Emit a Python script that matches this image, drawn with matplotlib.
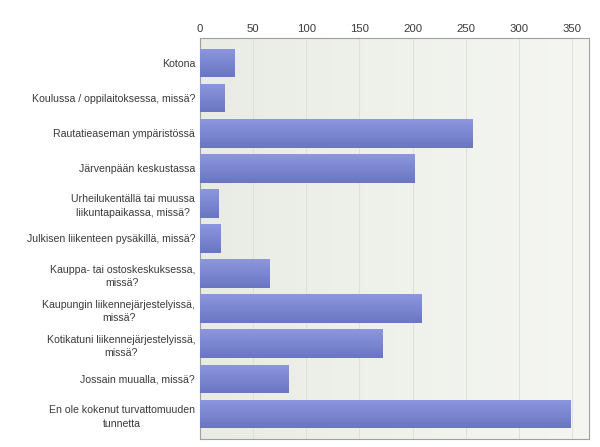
import numpy as np
import matplotlib.pyplot as plt
from matplotlib.colors import LinearSegmentedColormap

labels = [
    "Kotona",
    "Koulussa / oppilaitoksessa, missä?",
    "Rautatieaseman ympäristössä",
    "Järvenpään keskustassa",
    "Urheilukentällä tai muussa\nliikuntapaikassa, missä?",
    "Julkisen liikenteen pysäkillä, missä?",
    "Kauppa- tai ostoskeskuksessa,\nmissä?",
    "Kaupungin liikennejärjestelyissä,\nmissä?",
    "Kotikatuni liikennejärjestelyissä,\nmissä?",
    "Jossain muualla, missä?",
    "En ole kokenut turvattomuuden\ntunnetta",
]
values = [32, 23, 256, 202, 17, 19, 65, 208, 172, 83, 349]
xticks = [0, 50, 100, 150, 200, 250, 300, 350]

plt.rcParams['font.family'] = ['Liberation Sans', 'DejaVu Sans']

fig = plt.figure(figsize=(6, 4.47), dpi=100)
ax = fig.add_axes([200 / 600, 1 - 439 / 447, 389 / 600, 401 / 447])

xmax = 366
ax.set_xlim(0, xmax)
ax.set_ylim(len(values) - 0.29, -0.71)

# background gradient
bg = LinearSegmentedColormap.from_list('bg', ['#e9ece4', '#f5f6f2'])
ax.imshow(np.linspace(0, 1, 256)[None, :], cmap=bg, aspect='auto',
          extent=[0, xmax, len(values) - 0.29, -0.71], zorder=0)

for x in xticks[1:]:
    ax.axvline(x, color='#e0e0da', lw=0.7, zorder=1)

# bars with vertical gradient
barcmap = LinearSegmentedColormap.from_list('bar', ['#8c97df', '#6b76c2'])
y = np.arange(len(values))
bars = ax.barh(y, values, height=0.82, color='#7c87d1', zorder=2)
for b in bars:
    x0, y0 = b.get_x(), b.get_y()
    w, h = b.get_width(), b.get_height()
    im = ax.imshow(np.linspace(0, 1, 64)[:, None], cmap=barcmap, aspect='auto',
                   extent=[x0, x0 + w, y0 + h, y0], zorder=3)
    im.set_clip_path(b)

ax.set_yticks(y)
ax.set_yticklabels(labels, fontsize=7.6, color='#3a3a3a', linespacing=1.45)
ax.tick_params(axis='y', length=0, pad=3.5)
ax.set_xticks(xticks)
ax.xaxis.tick_top()
ax.tick_params(axis='x', length=0, pad=3, labelsize=8.2, labelcolor='#3a3a3a')
for lbl in ax.get_yticklabels():
    lbl.set_horizontalalignment('right')
    lbl.set_multialignment('center')

for s in ax.spines.values():
    s.set_color('#a0a0a0')
    s.set_linewidth(0.8)

fig.savefig('out.png', dpi=100)
